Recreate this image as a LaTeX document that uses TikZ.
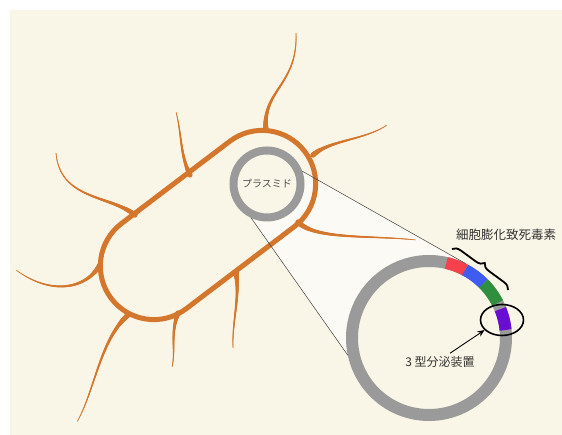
\documentclass[tikz,border=0pt]{standalone}
\usepackage{fontspec}
\newfontfamily\jpfont{Noto Sans CJK JP}
\usetikzlibrary{positioning,arrows.meta,shapes.geometric,decorations.markings,decorations.pathreplacing,backgrounds}
\definecolor{cellbg}{HTML}{FAF6E7}
\definecolor{cellorange}{HTML}{D4762C}
\definecolor{ringgray}{HTML}{9A9A9A}
\definecolor{genered}{HTML}{F4414B}
\definecolor{geneblue}{HTML}{3E5CF2}
\definecolor{genegreen}{HTML}{2F8F3F}
\definecolor{genepurple}{HTML}{6A0DD2}
% tapering flagellum: radius shrinks along the path
\newcommand{\flagfrac}{(1-\pgfkeysvalueof{/pgf/decoration/mark info/distance from start}/\pgfdecoratedpathlength)}

\begin{document}
\begin{tikzpicture}[x=1pt, y=1pt,
    font=\jpfont, >={Stealth[length=7pt, width=6pt]},
    wall/.style={draw=cellorange, line width=5pt},
    flag/.style={decorate, decoration={markings,
      mark=between positions 0 and 1 step 0.4pt with {%
        \pgfmathsetmacro\flagr{0.4+1.2*\flagfrac+1.0*\flagfrac^6}%
        \fill[cellorange] (0,0) circle[radius=\flagr pt];}}},
    ring/.style={circle, draw=ringgray, inner sep=0pt},
    gene/.style={line width=12pt},
    lab/.style={text=black!80, inner sep=1pt},
    zoomline/.style={draw=black!75, line width=0.5pt}]
  \useasboundingbox (0,0) rectangle (562,435);

  % flagella
  \path[flag] (266,305) .. controls (262,345) and (298,350) .. (296,402);
  \path[flag] (190,260) .. controls (180,280) and (182,300) .. (176,323);
  \path[flag] (135,220) .. controls (110,240) and (60,235) .. (56,282);
  \path[flag] (100,170) .. controls (85,145) and (50,140) .. (16,165);
  \path[flag] (128,120) .. controls (100,95) and (95,45) .. (77,13);
  \path[flag] (178,122) .. controls (170,100) and (176,85) .. (172,68);
  \path[flag] (236,163) .. controls (240,135) and (232,115) .. (233,87);
  \path[flag] (298,213) .. controls (315,195) and (370,200) .. (416,195);
  \path[flag] (313,280) .. controls (330,295) and (365,295) .. (387,310);

  % cell body
  \node[wall, minimum width=243pt, minimum height=107pt, rounded corners=53.5pt, rotate=37.2] (cell) at (208,210) {};

  % plasmids
  \node[ring, line width=8pt, minimum size=67pt, font=\jpfont\fontsize{10}{12}\selectfont, text=black!70] (plasmid) at (267,251) {プラスミド};
  \node[ring, line width=12pt, minimum size=154pt] (bigring) at (429,97) {};
  \foreach \a/\b/\c in {77/62/genered, 62/45/geneblue, 45/27/genegreen, 22/6/genepurple}
    \draw[gene, \c] (bigring.center) ++(\a:77pt) arc[start angle=\a, end angle=\b, radius=77pt];

  \draw[zoomline] (plasmid.20) -- (bigring.64);
  \draw[zoomline] (plasmid.245) -- (bigring.192);

  % toxin genes
  \coordinate (braceA) at (452,186);
  \coordinate (braceB) at (508,145);
  \draw[decorate, decoration={brace, amplitude=8pt}, line width=1.8pt] (braceA) -- (braceB);
  \node[lab, font=\jpfont\fontsize{12.5}{14}\selectfont] (toxin) at (506,200) {細胞膨化致死毒素};

  % secretion system
  \node[draw, ellipse, line width=1.6pt, minimum width=43pt, minimum height=31pt, inner sep=0pt] (t3ss) at (502,115) {};
  \node[lab, font=\jpfont\fontsize{12}{14}\selectfont] (t3lab) at (440,73) {3 型分泌装置};
  \draw[->, line width=0.9pt] ([xshift=10pt, yshift=2pt]t3lab.north) -- (t3ss.210);

  \begin{pgfonlayer}{background}
    \fill[cellbg] (10,0) rectangle (562,425);
    \fill[white, opacity=0.55] (plasmid.20) -- (bigring.64) arc[start angle=64, end angle=192, radius=83pt]
      -- (plasmid.245) arc[start angle=245, end angle=380, radius=37.5pt] -- cycle;
  \end{pgfonlayer}
\end{tikzpicture}
\end{document}
